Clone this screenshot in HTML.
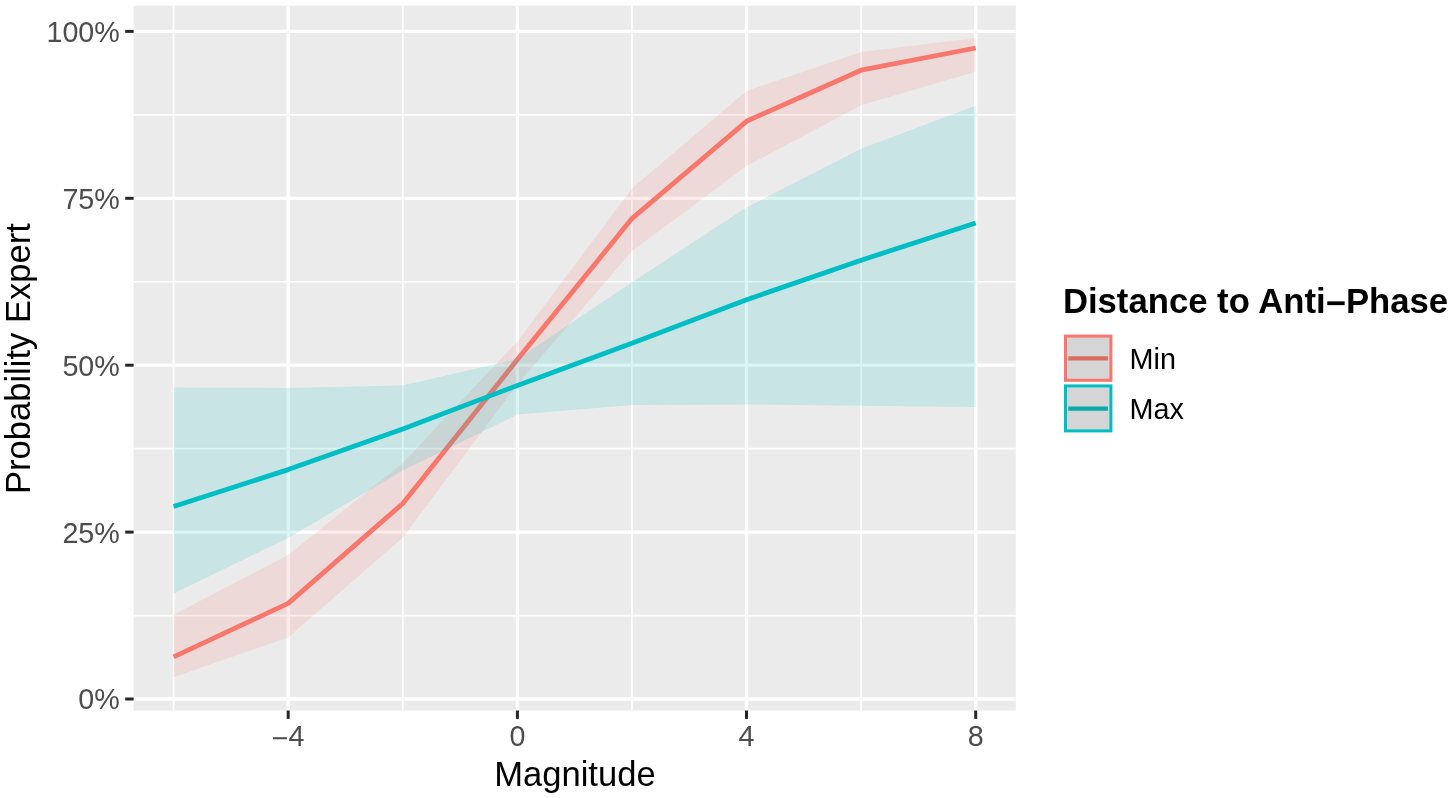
<!DOCTYPE html>
<html lang="en"><head><meta charset="utf-8"><title>Probability Expert vs Magnitude</title>
<style>html,body{margin:0;padding:0;background:#fff}body{width:1453px;height:798px;overflow:hidden}svg{display:block}text{font-family:"Liberation Sans",Arial,Helvetica,sans-serif}</style></head><body>
<svg width="1453" height="798" viewBox="0 0 1453 798">
<rect width="1453" height="798" fill="#ffffff"/>
<defs><clipPath id="pc"><rect x="133.6" y="5.7" width="882.2" height="704.8"/></clipPath></defs>
<rect x="133.6" y="5.7" width="882.2" height="704.8" fill="#ebebeb"/>
<g clip-path="url(#pc)">
<g stroke="#ffffff" stroke-width="1.67" fill="none">
<line x1="133.6" x2="1015.8" y1="114.85" y2="114.85"/>
<line x1="133.6" x2="1015.8" y1="281.75" y2="281.75"/>
<line x1="133.6" x2="1015.8" y1="448.65" y2="448.65"/>
<line x1="133.6" x2="1015.8" y1="615.55" y2="615.55"/>
<line x1="173.6" x2="173.6" y1="5.7" y2="710.5"/>
<line x1="402.8" x2="402.8" y1="5.7" y2="710.5"/>
<line x1="631.9" x2="631.9" y1="5.7" y2="710.5"/>
<line x1="861.1" x2="861.1" y1="5.7" y2="710.5"/>
</g><g stroke="#ffffff" stroke-width="3.34" fill="none">
<line x1="133.6" x2="1015.8" y1="31.4" y2="31.4"/>
<line x1="133.6" x2="1015.8" y1="198.3" y2="198.3"/>
<line x1="133.6" x2="1015.8" y1="365.2" y2="365.2"/>
<line x1="133.6" x2="1015.8" y1="532.1" y2="532.1"/>
<line x1="133.6" x2="1015.8" y1="699.0" y2="699.0"/>
<line x1="288.2" x2="288.2" y1="5.7" y2="710.5"/>
<line x1="517.4" x2="517.4" y1="5.7" y2="710.5"/>
<line x1="746.5" x2="746.5" y1="5.7" y2="710.5"/>
<line x1="975.7" x2="975.7" y1="5.7" y2="710.5"/>
</g>
<polyline points="173.6,656.9 288.2,603.4 402.8,503.5 517.4,359.6 631.9,218.6 746.5,121.3 861.1,70.2 975.7,48.0" fill="none" stroke="#f8766d" stroke-width="4.8" stroke-linejoin="round"/>
<polygon points="173.6,614.8 288.2,555.1 402.8,462.9 517.4,341.5 631.9,188.6 746.5,91.0 861.1,52.0 975.7,37.9 975.7,71.7 861.1,105.3 746.5,166.1 631.9,251.0 517.4,384.5 402.8,537.4 288.2,637.4 173.6,677.3" fill="#f8766d" fill-opacity="0.15"/>
<polyline points="173.6,506.5 288.2,469.6 402.8,429.1 517.4,385.4 631.9,343.2 746.5,299.7 861.1,260.2 975.7,223.0" fill="none" stroke="#00bfc4" stroke-width="4.8" stroke-linejoin="round"/>
<polygon points="173.6,387.6 288.2,387.9 402.8,385.5 517.4,359.0 631.9,282.3 746.5,207.5 861.1,148.8 975.7,105.7 975.7,406.9 861.1,405.8 746.5,404.4 631.9,404.9 517.4,414.6 402.8,470.5 288.2,537.9 173.6,593.6" fill="#00bfc4" fill-opacity="0.15"/>
</g>
<g stroke="#262626" stroke-width="3.0">
<line x1="125.2" x2="133.6" y1="31.4" y2="31.4"/>
<line x1="125.2" x2="133.6" y1="198.3" y2="198.3"/>
<line x1="125.2" x2="133.6" y1="365.2" y2="365.2"/>
<line x1="125.2" x2="133.6" y1="532.1" y2="532.1"/>
<line x1="125.2" x2="133.6" y1="699.0" y2="699.0"/>
<line x1="288.2" x2="288.2" y1="710.5" y2="718.9"/>
<line x1="517.4" x2="517.4" y1="710.5" y2="718.9"/>
<line x1="746.5" x2="746.5" y1="710.5" y2="718.9"/>
<line x1="975.7" x2="975.7" y1="710.5" y2="718.9"/>
</g>
<g font-size="28.7" fill="#4d4d4d">
<text x="119.8" y="41.8" text-anchor="end">100%</text>
<text x="119.8" y="208.7" text-anchor="end">75%</text>
<text x="119.8" y="375.6" text-anchor="end">50%</text>
<text x="119.8" y="542.5" text-anchor="end">25%</text>
<text x="119.8" y="709.4" text-anchor="end">0%</text>
<text x="288.2" y="745.5" text-anchor="middle"><tspan dy="2.5">−</tspan><tspan dy="-2.5">4</tspan></text>
<text x="517.4" y="745.5" text-anchor="middle">0</text>
<text x="746.5" y="745.5" text-anchor="middle">4</text>
<text x="975.7" y="745.5" text-anchor="middle">8</text>
</g>
<text x="574.9" y="785.5" font-size="34.6" text-anchor="middle" fill="#000">Magnitude</text>
<text transform="translate(30.1,358.6) rotate(-90)" font-size="34.6" text-anchor="middle" fill="#000">Probability Expert</text>
<text x="1062.9" y="313.2" font-size="34.7" font-weight="bold" fill="#000">Distance to Anti<tspan dy="1.3">−</tspan><tspan dy="-1.3">Phase</tspan></text>
<rect x="1065.5" y="336.1" width="45.4" height="44.2" fill="#d5d5d5" stroke="#f8766d" stroke-width="3"/>
<line x1="1068.3" x2="1107.9" y1="358.4" y2="358.4" stroke="#da6c64" stroke-width="4.4"/>
<rect x="1065.5" y="385.9" width="45.4" height="45.0" fill="#d5d5d5" stroke="#00bfc4" stroke-width="3"/>
<line x1="1068.3" x2="1107.9" y1="408.6" y2="408.6" stroke="#08aaae" stroke-width="4.4"/>
<g font-size="28.8" fill="#000"><text x="1129.6" y="368.9">Min</text><text x="1129.6" y="419.2">Max</text></g>
</svg></body></html>
